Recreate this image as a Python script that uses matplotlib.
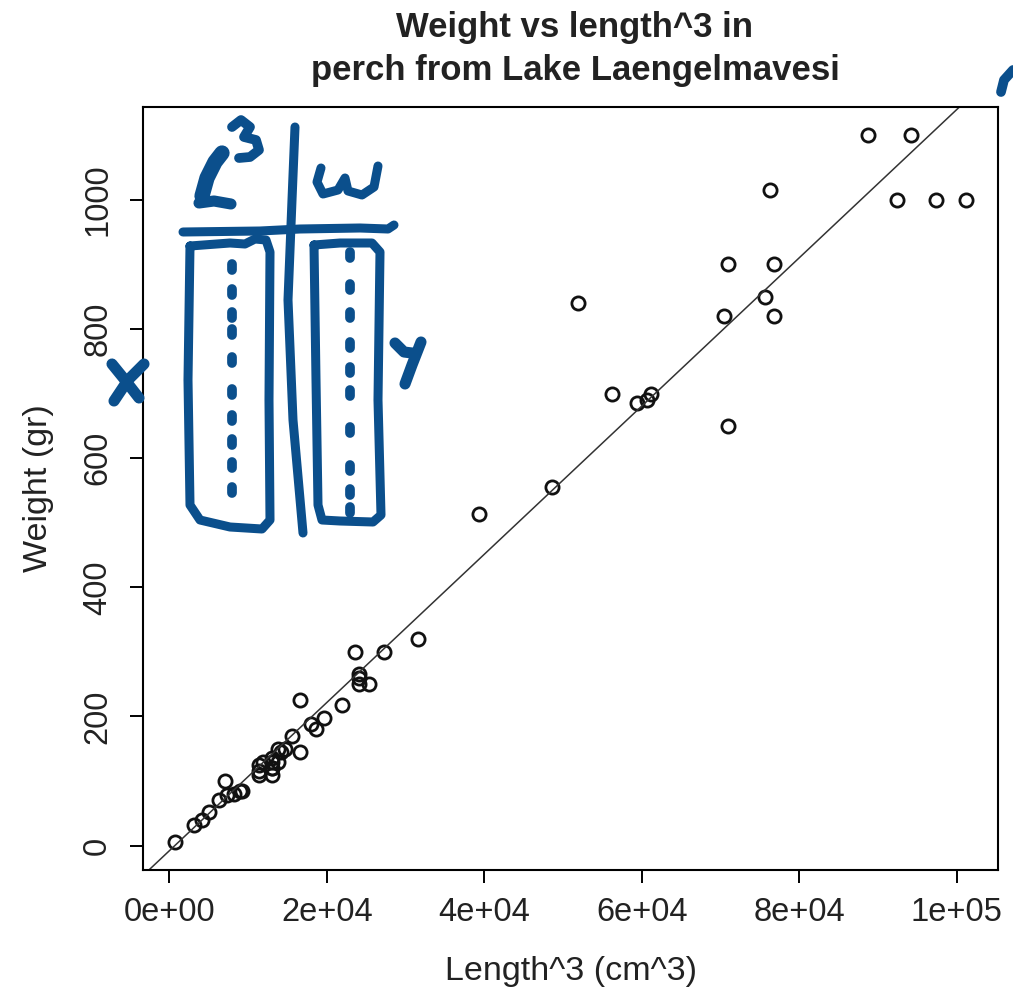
import numpy as np
import matplotlib.pyplot as plt
from matplotlib.ticker import FuncFormatter

### Perch data (Lake Laengelmavesi)
weight = [5.9, 32, 40, 51.5, 70, 100, 78, 80, 85, 85,
          110, 115, 125, 130, 120, 120, 130, 135, 110, 130,
          150, 145, 150, 170, 225, 145, 188, 180, 197, 218,
          300, 260, 265, 250, 250, 300, 320, 514, 556, 840,
          685, 700, 700, 690, 900, 650, 820, 850, 900, 1015,
          820, 1100, 1000, 1100, 1000, 1000]
length = [8.8, 14.7, 16.0, 17.2, 18.5, 19.2, 19.4, 20.2, 20.8, 21.0,
          22.5, 22.5, 22.5, 22.8, 23.5, 23.5, 23.5, 23.5, 23.5, 24.0,
          24.0, 24.2, 24.5, 25.0, 25.5, 25.5, 26.2, 26.5, 27.0, 28.0,
          28.7, 28.9, 28.9, 28.9, 29.4, 30.1, 31.6, 34.0, 36.5, 37.3,
          39.0, 38.3, 39.4, 39.3, 41.4, 41.4, 41.3, 42.3, 42.5, 42.4,
          42.5, 44.6, 45.2, 45.5, 46.0, 46.6]
xticks = [0, 20000, 40000, 60000, 80000, 100000]
yticks = [0, 200, 400, 600, 800, 1000]

x = np.array(length)**3
y = np.array(weight)
slope, icept = np.polyfit(x, y, 1)

W, H = 1013, 993
plt.rcParams['font.family'] = ['Liberation Sans', 'DejaVu Sans']
fig = plt.figure(figsize=(W/100., H/100.), dpi=100)
ax = fig.add_axes([143./W, 1-870./H, (998.-143.)/W, (870.-107.)/H])

txt = '#222222'
ax.plot(x, y, 'o', mfc='none', mec='#111111', ms=9.5, mew=2.0)
ax.axline((0, icept), slope=slope, color='#333333', lw=1.1)

# R style 4% padding around the data
def padded(v):
  r = v.max() - v.min()
  return v.min() - 0.04*r, v.max() + 0.04*r
ax.set_xlim(*padded(x))
ax.set_ylim(*padded(y))

ax.set_xticks(xticks)
ax.set_yticks(yticks)
ax.xaxis.set_major_formatter(FuncFormatter(lambda v, p: '%.0e' % v))
ax.tick_params(axis='both', direction='out', length=9.5, width=1.4,
               labelsize=23.5, labelcolor=txt)
ax.tick_params(axis='x', pad=10)
ax.tick_params(axis='y', pad=12)
for lab in ax.get_yticklabels():
  lab.set_rotation(90)
  lab.set_va('center')
for sp in ax.spines.values():
  sp.set_linewidth(1.5)

ax.set_xlabel('Length^3 (cm^3)', fontsize=24.5, color=txt, labelpad=20)
ax.set_ylabel('Weight (gr)', fontsize=24.5, color=txt, labelpad=20)
fig.text(575./W, 1-49./H, 'Weight vs length^3 in\nperch from Lake Laengelmavesi',
         ha='center', va='center', fontsize=25, fontweight='bold',
         color=txt, linespacing=1.36)

### Hand-drawn notes on top (pixel coords, y down)
ink = '#0b4f8c'
def stroke(pts, lw=6.5):
  pts = np.array(pts, dtype=float)
  fig.add_artist(plt.Line2D(pts[:, 0]/W, 1 - pts[:, 1]/H, color=ink, lw=lw,
                            solid_capstyle='round', solid_joinstyle='round',
                            transform=fig.transFigure))

# l^3 and w headers
stroke([(202, 196), (207, 178), (215, 162), (222, 153)], lw=11)
stroke([(199, 203), (214, 201), (231, 204)], lw=8)
stroke([(232, 127), (241, 120), (250, 127), (244, 137), (256, 140),
        (259, 150), (250, 157), (239, 158)], lw=7)
stroke([(321, 168), (317, 182), (323, 194), (338, 190), (345, 178),
        (348, 191), (362, 195), (374, 187), (378, 166)], lw=6.5)
# table lines
stroke([(295, 127), (292, 200), (288, 300), (293, 420), (303, 533)])
stroke([(183, 232), (260, 231), (300, 229), (360, 228), (388, 229), (394, 225)])
# columns
stroke([(190, 246), (230, 243), (245, 244), (255, 239), (266, 240),
        (270, 252), (269, 400), (270, 520), (262, 529), (230, 527),
        (200, 520), (190, 505), (188, 380), (190, 246)])
stroke([(314, 245), (340, 243), (372, 243), (380, 252), (378, 400),
        (381, 515), (373, 522), (340, 521), (322, 520), (318, 505),
        (316, 380), (314, 245)])
ldots = [267, 292, 315, 332, 360, 392, 418, 442, 465, 490]
rdots = [255, 287, 315, 345, 370, 393, 430, 468, 492, 510]
for yy in ldots:
  stroke([(232, yy - 3), (232, yy + 3)], lw=7)
for yy in rdots:
  stroke([(350, yy - 3), (350, yy + 3)], lw=7)
# x and y
stroke([(112, 364), (125, 380), (139, 398)], lw=8)
stroke([(144, 364), (128, 380), (114, 401)], lw=8)
stroke([(395, 343), (404, 352), (412, 353)], lw=8)
stroke([(421, 342), (412, 365), (405, 384)], lw=8)
# corner mark
stroke([(1001, 92), (1004, 80), (1013, 70)], lw=7)

fig.savefig('out.png', dpi=100)
